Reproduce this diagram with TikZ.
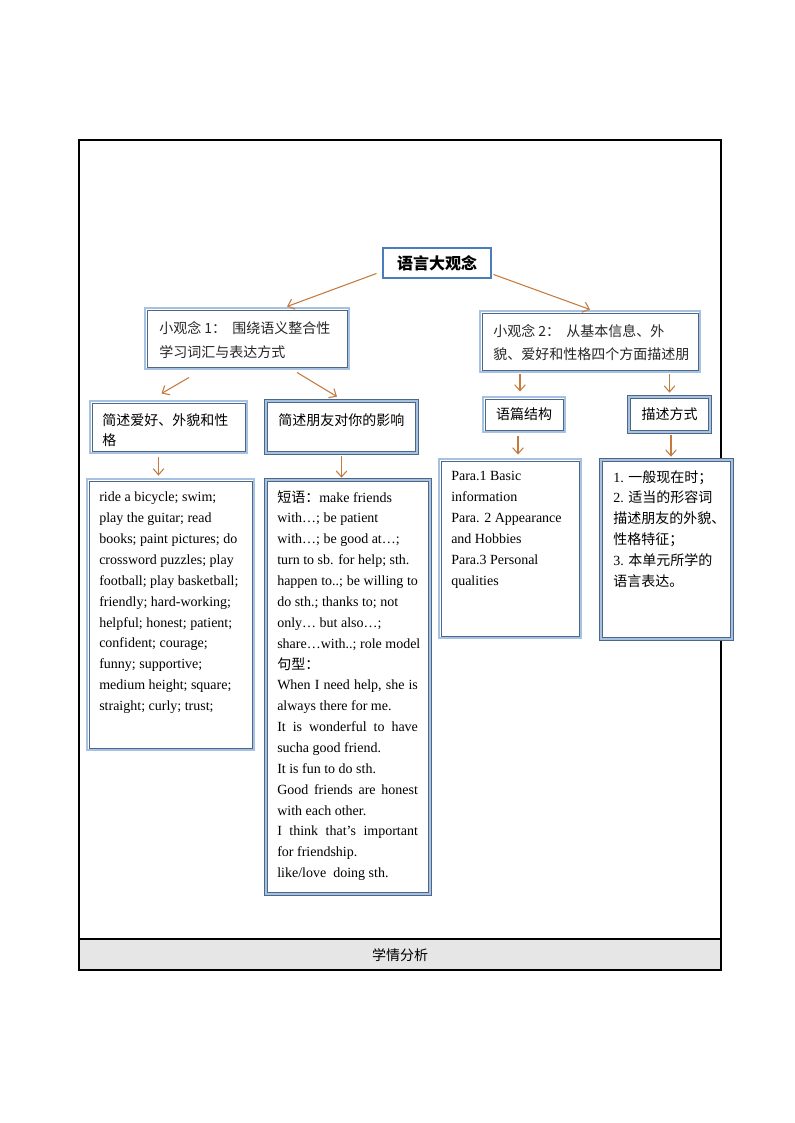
\documentclass[tikz,border=0pt]{standalone}
\usepackage{fontspec}
\setmainfont{Liberation Serif}
\newfontfamily\cjkf{Noto Sans CJK SC}
\usetikzlibrary{arrows.meta,calc}
\newcommand\zh[1]{{\cjkf #1}}
\newcommand\jl[1]{\makebox[105.5pt][s]{#1}}
\definecolor{lb}{RGB}{166,193,226}
\definecolor{dk}{RGB}{77,104,135}
\definecolor{tb}{RGB}{74,126,187}
\definecolor{arrc}{RGB}{198,122,62}
\definecolor{barg}{RGB}{230,230,230}
\begin{document}
\begin{tikzpicture}[x=0.75pt,y=-0.75pt,
  sz/.style 2 args={minimum width=#1*0.75pt, minimum height=#2*0.75pt},
  base/.style={inner sep=0pt, fill=white},
  lbox/.style={base, draw=lb, line width=2.2pt,
    path picture={\draw[dk, line width=0.55pt]
      ([shift={(1.45pt,1.45pt)}]path picture bounding box.south west) rectangle
      ([shift={(-1.45pt,-1.45pt)}]path picture bounding box.north east);}},
  dbox/.style={base, draw=dk, double=lb, double distance=1.3pt, line width=0.55pt},
  topbox/.style={base, draw=tb, line width=2.2pt},
  txt/.style={inner sep=0pt, align=left, anchor=north west, font=\fontsize{10.5pt}{15.65pt}\selectfont},
  cjktxt/.style={txt, font=\cjkf\fontsize{10.5pt}{#1}\selectfont},
  arr/.style={draw=arrc, line width=0.8pt, -{Straight Barb[length=4.5pt,width=8pt]}}
]
\useasboundingbox (0,0) rectangle (794,1123);
\fill[white] (0,0) rectangle (794,1123);

% table frame
\fill[barg] (79,939) rectangle (721,970);
\draw[line width=0.8pt] (79,140) rectangle (721,970);
\draw[line width=0.8pt] (79,939) -- (721,939);
\node[inner sep=0pt, font=\cjkf\fontsize{10.5pt}{12pt}\selectfont] (xq) at (400,955) {学情分析};

% boxes
\node[topbox, sz={108}{30}, font=\cjkf\bfseries\fontsize{12pt}{14pt}\selectfont] (top) at (437,263) {语言大观念};
\node[lbox, sz={204}{61}] (k1) at (247,338.5) {};
\node[lbox, sz={220}{61}] (k2) at (590,341.5) {};
\node[lbox, sz={157}{52}] (hA) at (168.5,427) {};
\node[dbox, sz={151}{52}] (hB) at (341.5,427) {};
\node[lbox, sz={82}{35}, font=\cjkf\fontsize{10.5pt}{12pt}\selectfont] (yp) at (524,414.5) {语篇结构};
\node[dbox, sz={81}{35}, font=\cjkf\fontsize{10.5pt}{12pt}\selectfont] (ms) at (669.5,414.5) {描述方式};
\node[lbox, sz={167}{271}] (bA) at (170.5,614.5) {};
\node[dbox, sz={164}{414}] (bB) at (348,687) {};
\node[lbox, sz={142}{179}] (bC) at (510,548.5) {};
\node[dbox, sz={131}{179}] (bD) at (666.5,549.5) {};

% texts
\node[cjktxt=18pt, text=black!85] (tk1) at (159,319.7) {\rule{0pt}{10pt}小观念 1：\ \ 围绕语义整合性\\学习词汇与表达方式};
\node[cjktxt=17.25pt, text=black!85] (tk2) at (493,322.7) {\rule{0pt}{10pt}小观念 2：\ \ 从基本信息、外\\貌、爱好和性格四个方面描述朋};
\node[cjktxt=15pt] (thA) at (102,411.7) {\rule{0pt}{10pt}简述爱好、外貌和性\\格};
\node[cjktxt=15pt] (thB) at (278,411.7) {\rule{0pt}{10pt}简述朋友对你的影响};

\node[txt] (tA) at (99,488.2) {\rule{0pt}{10pt}ride a bicycle; swim;\\
play the guitar; read\\
books; paint pictures; do\\
crossword puzzles; play\\
football; play basketball;\\
friendly; hard-working;\\
helpful; honest; patient;\\
confident; courage;\\
funny; supportive;\\
medium height; square;\\
straight; curly; trust;};

\node[txt] (tB) at (277,488.5) {\rule{0pt}{10pt}\zh{短语：}make friends\\
with…; be patient\\
with…; be good at…;\\
turn to sb. for help; sth.\\
\jl{happen to..; be willing to}\\
do sth.; thanks to; not\\
only… but also…;\\
share…with..; role model\\
\zh{句型：}\\
\jl{When I need help, she is}\\
always there for me.\\
\jl{It is wonderful to have}\\
sucha good friend.\\
It is fun to do sth.\\
\jl{Good friends are honest}\\
with each other.\\
\jl{I think that’s important}\\
for friendship.\\
like/love\ \ doing sth.};

\node[txt] (tC) at (451,467.2) {\rule{0pt}{10pt}Para.1 Basic\\
information\\
Para. 2 Appearance\\
and Hobbies\\
Para.3 Personal\\
qualities};

\node[txt] (tD) at (613,468.5) {\rule{0pt}{10pt}1. \zh{一般现在时；}\\
2. \zh{适当的形容词}\\
\zh{描述朋友的外貌、}\\
\zh{性格特征；}\\
3. \zh{本单元所学的}\\
\zh{语言表达。}};

% connectors
\draw[arr] ($(top.south west)+(-5,-6)$) -- ($(k1.north)+(40,0)$);
\draw[arr] ($(top.south east)+(1,-5)$) -- (k2.north);
\draw[arr] ($(k1.south)+(-58,7)$) -- ($(hA.north)+(-7,-6)$);
\draw[arr] ($(k1.south)+(50,2)$) -- ($(hB.north)+(-4.5,-4)$);
\draw[arr] ($(yp.north|-k2.south)+(-4,1)$) -- ($(yp.north)+(-4,-4)$);
\draw[arr] ($(ms.north|-k2.south)+(0,1)$) -- ($(ms.north)+(0,-4)$);
\draw[arr] ($(hA.south)+(-10,3)$) -- ($(bA.north-|hA.south)+(-10,-2)$);
\draw[arr] ($(hB.south)+(0,3)$) -- ($(bB.north-|hB.south)+(0,-2)$);
\draw[arr] ($(yp.south)+(-6,3)$) -- ($(bC.north-|yp.south)+(-6,-3)$);
\draw[arr] ($(ms.south)+(1.5,3)$) -- ($(bD.north-|ms.south)+(1.5,-3)$);
\end{tikzpicture}
\end{document}
